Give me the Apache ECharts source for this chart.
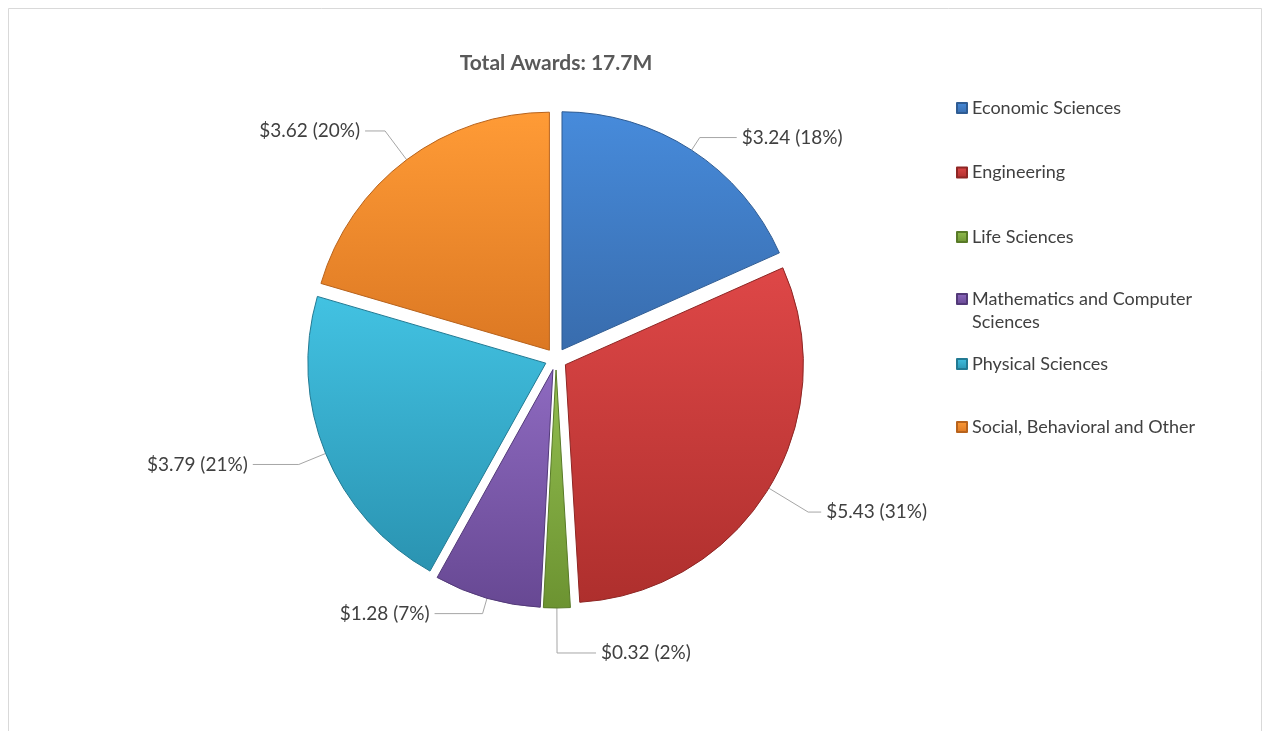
<!DOCTYPE html>
<html>
<head>
<meta charset="utf-8">
<script src="https://cdn.jsdelivr.net/npm/echarts@6/dist/echarts.min.js"></script>
<style>
  html, body { margin: 0; padding: 0; background: #ffffff; }
  #chart { width: 1265px; height: 731px; }
</style>
</head>
<body>
<div id="chart"></div>
<script>
// ---- data ----
const categories = [
  'Economic Sciences',
  'Engineering',
  'Life Sciences',
  'Mathematics and Computer Sciences',
  'Physical Sciences',
  'Social, Behavioral and Other'
];
const awards = [3.24, 5.43, 0.32, 1.28, 3.79, 3.62];
const titleText = 'Total Awards: 17.7M';

// ---- styles / layout ----
const palette = [
  ['#478BDB', '#386CAD'],
  ['#DE4747', '#AE2F2D'],
  ['#93BE50', '#6C9331'],
  ['#8E6AC0', '#674893'],
  ['#42C2E2', '#2A93B1'],
  ['#FF9B36', '#DC7823']
];
const edge = ['#2F5C93', '#8E2624', '#587A27', '#533A79', '#227A93', '#B8631C'];
// leader line [length, length2] per slice
const leaders = [[15, 37], [46, 13], [45, 39], [16, 48], [29, 46], [36, 20]];

const chart = echarts.init(document.getElementById('chart'));

const seriesData = categories.map((name, i) => ({
  name: name,
  value: awards[i],
  selected: true,
  itemStyle: {
    color: {
      type: 'linear', x: 0, y: 0, x2: 0, y2: 1,
      colorStops: [
        { offset: 0, color: palette[i][0] },
        { offset: 1, color: palette[i][1] }
      ]
    },
    borderColor: edge[i],
    borderWidth: 1
  },
  labelLine: { length: leaders[i][0], length2: leaders[i][1] }
}));

const legendText = { color: '#404040', fontSize: 18, fontFamily: 'Lato', lineHeight: 23 };
const legendBase = {
  orient: 'vertical',
  left: 956,
  padding: 0,
  itemWidth: 10,
  itemHeight: 10,
  itemGap: 41.5,
  icon: 'rect',
  selectedMode: false,
  textStyle: legendText
};

chart.setOption({
  animation: false,
  backgroundColor: '#ffffff',
  graphic: [{
    type: 'rect',
    shape: { x: 8.5, y: 8.5, width: 1253, height: 740 },
    style: { fill: 'none', stroke: '#D9D9D9', lineWidth: 1 },
    silent: true
  }],
  title: {
    text: titleText,
    left: 556,
    top: 53,
    padding: 0,
    textAlign: 'center',
    textStyle: { color: '#595959', fontSize: 21, fontWeight: 'bold', fontFamily: 'Lato' }
  },
  legend: [
    Object.assign({}, legendBase, { top: 96.5, data: categories.slice(0, 3) }),
    Object.assign({}, legendBase, {
      top: 264.5,
      data: categories.slice(3, 4),
      formatter: function (n) { return '\n' + n.replace(' Computer ', ' Computer\n'); }
    }),
    Object.assign({}, legendBase, { top: 352.5, itemGap: 40, data: categories.slice(4) })
  ],
  series: [{
    type: 'pie',
    center: [556, 359],
    radius: 238,
    startAngle: 90,
    clockwise: true,
    selectedMode: 'multiple',
    selectedOffset: 11,
    avoidLabelOverlap: false,
    data: seriesData,
    emphasis: { scale: false },
    label: {
      show: true,
      position: 'outside',
      color: '#404040',
      fontSize: 19,
      fontFamily: 'Lato',
      formatter: function (p) {
        return '$' + p.value.toFixed(2) + ' (' + Math.round(p.percent) + '%)';
      }
    },
    labelLine: {
      show: true,
      lineStyle: { color: '#A6A6A6', width: 1 }
    }
  }]
});
</script>
</body>
</html>
